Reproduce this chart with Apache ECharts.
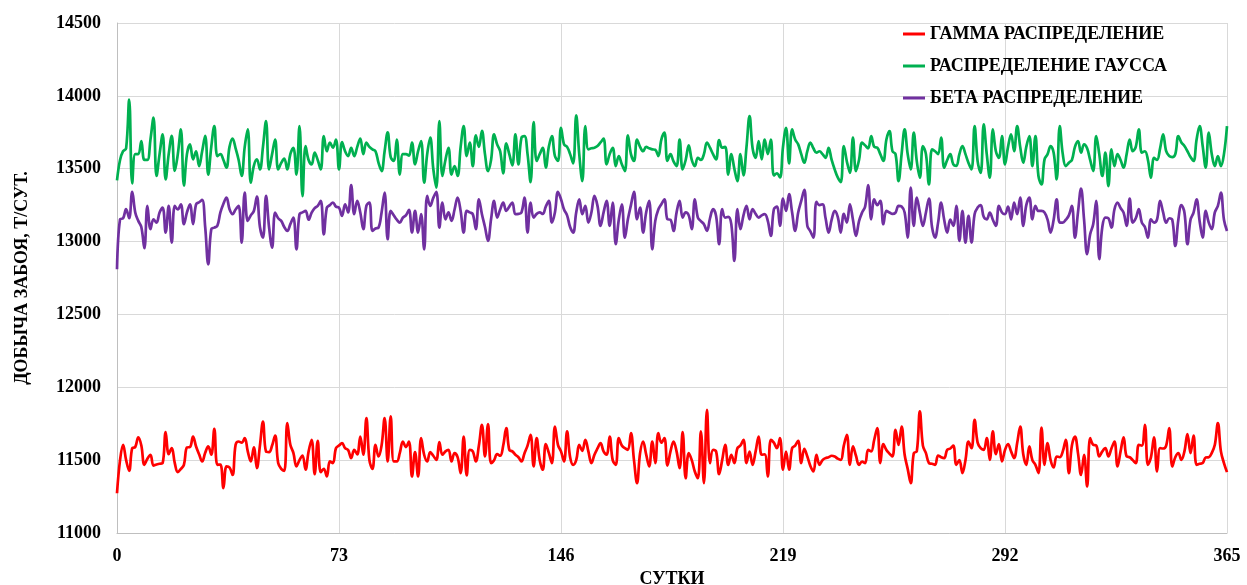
<!DOCTYPE html>
<html>
<head>
<meta charset="utf-8">
<script src="https://cdn.jsdelivr.net/npm/echarts@6/dist/echarts.min.js"></script>
<style>
html,body{margin:0;padding:0;background:#fff;}
#chart{width:1247px;height:585px;}
</style>
</head>
<body>
<div id="chart"></div>
<script>
const xTicks = [0, 73, 146, 219, 292, 365];
const yTicks = [11000, 11500, 12000, 12500, 13000, 13500, 14000, 14500];
const seriesNames = ['ГАММА РАСПРЕДЕЛЕНИЕ', 'РАСПРЕДЕЛЕНИЕ ГАУССА', 'БЕТА РАСПРЕДЕЛЕНИЕ'];

const gamma = [
11273,11500,11605,11500,11427,11582,11590,11656,11600,11468,
11510,11537,11463,11470,11475,11480,11692,11541,11582,11480,
11418,11440,11468,11587,11590,11662,11594,11540,11491,11550,
11594,11537,11715,11468,11470,11308,11457,11450,11399,11605,
11628,11620,11651,11560,11491,11587,11445,11600,11765,11559,
11555,11600,11669,11480,11440,11427,11754,11605,11550,11457,
11500,11532,11434,11560,11640,11404,11633,11418,11440,11388,
11491,11480,11582,11600,11617,11582,11570,11514,11571,11540,
11662,11537,11788,11500,11440,11605,11525,11600,11788,11491,
11800,11491,11491,11550,11628,11590,11628,11388,11555,11388,
11651,11537,11491,11555,11530,11502,11624,11537,11560,11571,
11491,11548,11520,11411,11662,11395,11571,11560,11491,11600,
11743,11525,11747,11480,11500,11541,11530,11600,11720,11571,
11560,11537,11520,11491,11548,11600,11674,11457,11651,11500,
11434,11610,11550,11480,11731,11605,11560,11491,11697,11520,
11468,11500,11605,11564,11640,11560,11480,11537,11580,11617,
11560,11537,11662,11500,11468,11651,11600,11582,11570,11685,
11500,11342,11548,11628,11540,11457,11628,11480,11685,11620,
11651,11463,11560,11628,11560,11445,11692,11376,11548,11500,
11422,11376,11697,11342,11845,11480,11571,11560,11404,11500,
11605,11468,11537,11480,11582,11600,11640,11480,11559,11468,
11560,11662,11537,11540,11388,11640,11620,11582,11651,11434,
11559,11434,11582,11600,11633,11480,11578,11525,11460,11422,
11537,11468,11500,11514,11520,11530,11525,11510,11502,11600,
11674,11468,11594,11530,11468,11490,11480,11571,11560,11640,
11720,11480,11610,11570,11545,11525,11708,11605,11731,11537,
11440,11342,11548,11560,11834,11600,11548,11480,11475,11468,
11532,11520,11514,11571,11580,11600,11468,11500,11411,11500,
11628,11582,11777,11620,11582,11571,11651,11502,11697,11541,
11610,11491,11570,11610,11560,11514,11617,11731,11540,11468,
11594,11500,11468,11411,11724,11468,11617,11500,11450,11525,
11520,11560,11640,11411,11600,11662,11548,11399,11537,11319,
11651,11605,11600,11525,11560,11582,11525,11580,11628,11457,
11560,11656,11525,11520,11500,11480,11605,11600,11743,11468,
11520,11656,11422,11582,11580,11600,11720,11457,11520,11548,
11502,11560,11678,11548,11669,11468,11475,11480,11518,11520,
11550,11605,11754,11560,11480,11418
];

const gauss = [
13420,13560,13620,13640,13975,13400,13600,13600,13690,13560,
13560,13700,13850,13450,13600,13735,13427,13600,13725,13485,
13600,13770,13385,13600,13667,13564,13620,13518,13620,13725,
13460,13650,13793,13587,13600,13560,13507,13650,13706,13640,
13560,13450,13650,13770,13404,13520,13564,13495,13650,13827,
13495,13600,13700,13495,13540,13570,13495,13600,13644,13460,
13793,13312,13656,13560,13530,13610,13560,13495,13724,13620,
13680,13644,13700,13495,13683,13620,13587,13644,13587,13650,
13706,13600,13680,13650,13633,13620,13540,13484,13620,13750,
13580,13553,13700,13460,13600,13600,13590,13680,13530,13620,
13690,13404,13600,13713,13500,13370,13827,13450,13560,13644,
13460,13518,13450,13650,13793,13587,13680,13518,13729,13650,
13760,13600,13484,13560,13735,13667,13620,13468,13674,13600,
13523,13735,13530,13713,13724,13600,13408,13820,13553,13600,
13644,13507,13650,13724,13587,13553,13781,13667,13650,13600,
13537,13866,13600,13415,13793,13633,13640,13644,13656,13680,
13706,13530,13600,13644,13518,13587,13530,13484,13729,13600,
13553,13700,13650,13620,13650,13640,13633,13630,13587,13700,
13747,13553,13600,13550,13518,13700,13495,13560,13660,13560,
13518,13575,13560,13600,13680,13644,13600,13564,13697,13644,
13650,13460,13600,13500,13415,13600,13454,13650,13861,13640,
13575,13690,13564,13700,13600,13700,13454,13468,13440,13650,
13781,13537,13770,13700,13667,13600,13541,13620,13680,13640,
13610,13620,13600,13575,13644,13560,13495,13440,13408,13656,
13550,13472,13713,13484,13560,13680,13660,13640,13724,13650,
13644,13600,13553,13700,13758,13620,13600,13415,13600,13770,
13600,13495,13747,13550,13438,13656,13600,13392,13633,13620,
13600,13713,13507,13560,13600,13530,13520,13600,13656,13600,
13540,13495,13793,13550,13472,13804,13600,13438,13770,13620,
13575,13724,13530,13650,13735,13620,13793,13650,13541,13650,
13724,13518,13724,13450,13392,13564,13600,13656,13610,13427,
13793,13600,13518,13541,13560,13650,13690,13610,13667,13640,
13560,13484,13724,13600,13450,13610,13381,13633,13518,13600,
13560,13507,13600,13700,13620,13650,13770,13610,13620,13560,
13438,13575,13560,13640,13735,13620,13587,13580,13600,13724,
13680,13656,13620,13580,13553,13700,13793,13656,13507,13747,
13600,13518,13587,13518,13600,13793
];

const beta = [
12810,13153,13160,13222,13160,13341,13200,13142,13100,12954,
13245,13085,13153,13130,13200,13233,13062,13245,12993,13245,
13220,13256,13119,13200,13256,13119,13256,13270,13286,13100,
12844,13085,13096,13108,13200,13260,13302,13222,13188,13220,
13245,12993,13336,13142,13180,13210,13309,13100,13027,13313,
13100,12959,13199,13160,13142,13100,13073,13120,13165,12947,
13188,13200,13210,13150,13199,13230,13245,13279,13050,13233,
13250,13268,13240,13233,13176,13256,13200,13387,13188,13279,
13200,13085,13245,13268,13073,13090,13096,13200,13336,13016,
13210,13180,13150,13130,13165,13180,13217,13062,13210,13062,
13188,12947,13313,13245,13300,13341,13096,13268,13153,13200,
13142,13220,13302,13210,13062,13210,13200,13188,13085,13290,
13188,13100,13005,13153,13279,13165,13220,13268,13210,13240,
13268,13188,13190,13200,13302,13062,13268,13165,13190,13200,
13190,13240,13279,13130,13200,13341,13290,13220,13180,13100,
13062,13200,13290,13188,13245,13130,13200,13313,13245,13108,
13200,13279,13108,13268,12982,13150,13256,13027,13153,13250,
13341,13153,13233,13062,13200,13279,12947,13142,13220,13256,
13290,13153,13150,13073,13199,13279,13165,13200,13180,13085,
13290,13165,13140,13119,13073,13160,13222,13176,12982,13222,
13165,13170,13120,12867,13222,13085,13180,13245,13153,13222,
13190,13165,13180,13188,13142,13039,13222,13240,13108,13295,
13210,13325,13199,13073,13200,13279,13355,13108,13070,13027,
13272,13250,13256,13160,13062,13150,13210,13170,13062,13190,
13130,13256,13150,13039,13140,13199,13240,13387,13153,13290,
13250,13279,13119,13210,13200,13190,13199,13245,13240,13200,
13027,13371,13108,13302,13200,13108,13200,13295,13100,13027,
13130,13268,13150,13062,13150,13108,13245,13005,13210,12993,
13176,12993,13188,13233,13250,13170,13153,13199,13150,13108,
13245,13200,13188,13240,13153,13268,13188,13302,13108,13250,
13302,13153,13245,13210,13210,13200,13150,13062,13150,13290,
13130,13130,13150,13180,13245,13027,13200,13364,13150,12913,
13050,13119,13279,12879,13100,13165,13160,13096,13222,13268,
13230,13199,13108,13295,13130,13160,13222,13130,13100,13027,
13153,13130,13153,13279,13200,13130,13160,13150,12970,13150,
13250,13200,12982,13150,13199,13290,13140,13027,13210,13130,
13085,13200,13245,13336,13150,13073
];

const colors = ['#ff0000', '#00b050', '#7030a0'];
const font = '"Liberation Serif", "Times New Roman", serif';

function toPairs(arr) { return arr.map((v, i) => [i, v]); }

const chart = echarts.init(document.getElementById('chart'), null, {renderer: 'canvas'});
chart.setOption({
  animation: false,
  backgroundColor: '#ffffff',
  grid: {left: 117, right: 20, top: 23, bottom: 52, containLabel: false, outerBoundsMode: 'none'},
  legend: {
    orient: 'vertical',
    left: 903,
    top: 25,
    padding: 0,
    itemWidth: 22,
    itemHeight: 3,
    itemGap: 14,
    icon: 'rect',
    data: seriesNames,
    textStyle: {fontFamily: font, fontWeight: 'bold', fontSize: 18, color: '#000', padding: [0, 0, 0, 0]}
  },
  xAxis: {
    type: 'value',
    min: xTicks[0],
    max: xTicks[xTicks.length - 1],
    interval: xTicks[1] - xTicks[0],
    name: 'СУТКИ',
    nameLocation: 'middle',
    nameGap: 37,
    nameTextStyle: {fontFamily: font, fontWeight: 'bold', fontSize: 18, color: '#000'},
    axisLine: {show: true, lineStyle: {color: '#bfbfbf', width: 1}},
    axisTick: {show: false},
    axisLabel: {fontFamily: font, fontWeight: 'bold', fontSize: 18, color: '#000', margin: 14, formatter: v => String(v)},
    splitLine: {show: true, lineStyle: {color: '#d9d9d9', width: 1}}
  },
  yAxis: {
    type: 'value',
    min: yTicks[0],
    max: yTicks[yTicks.length - 1],
    interval: yTicks[1] - yTicks[0],
    name: 'ДОБЫЧА ЗАБОЯ, Т/СУТ.',
    nameLocation: 'middle',
    nameGap: 86,
    nameRotate: 90,
    nameTextStyle: {fontFamily: font, fontWeight: 'bold', fontSize: 18, color: '#000'},
    axisLine: {show: true, lineStyle: {color: '#bfbfbf', width: 1}},
    axisTick: {show: false},
    axisLabel: {fontFamily: font, fontWeight: 'bold', fontSize: 18, color: '#000', margin: 16, formatter: v => String(v)},
    splitLine: {show: true, lineStyle: {color: '#d9d9d9', width: 1}}
  },
  series: [
    {name: seriesNames[0], type: 'line', data: toPairs(gamma), smooth: 0.4, showSymbol: false, lineStyle: {color: colors[0], width: 2.7}, itemStyle: {color: colors[0]}},
    {name: seriesNames[1], type: 'line', data: toPairs(gauss), smooth: 0.4, showSymbol: false, lineStyle: {color: colors[1], width: 2.7}, itemStyle: {color: colors[1]}},
    {name: seriesNames[2], type: 'line', data: toPairs(beta), smooth: 0.4, showSymbol: false, lineStyle: {color: colors[2], width: 2.7}, itemStyle: {color: colors[2]}}
  ]
});
</script>
</body>
</html>
